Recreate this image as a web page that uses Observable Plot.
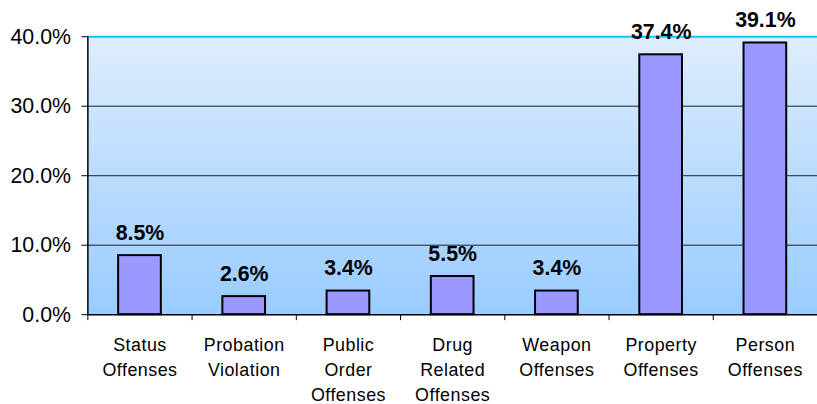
<!DOCTYPE html>
<html>
<head>
<meta charset="utf-8">
<script src="https://cdn.jsdelivr.net/npm/d3@7"></script>
<script src="https://cdn.jsdelivr.net/npm/@observablehq/plot@0.6"></script>
<style>
  html, body { margin: 0; padding: 0; background: #fff; overflow: hidden; width: 817px; height: 404px; }
  #chart svg { display: block; }
  #chart svg g[aria-label="x-axis tick label"] text { letter-spacing: 0.5px; }
</style>
</head>
<body>
<div id="chart"></div>
<script>
const categories = ["Status", "Probation", "Public Order", "Drug Related", "Weapon", "Property", "Person"];
const tickLabels = ["Status\nOffenses", "Probation\nViolation", "Public\nOrder\nOffenses", "Drug\nRelated\nOffenses", "Weapon\nOffenses", "Property\nOffenses", "Person\nOffenses"];
const values = [8.5, 2.6, 3.4, 5.5, 3.4, 37.4, 39.1];
const yTicks = [0, 10, 20, 30, 40];
const gridValues = [10, 20, 30];

const data = categories.map((c, i) => ({category: c, value: values[i]}));
const labelOf = new Map(categories.map((c, i) => [c, tickLabels[i]]));
const font = "'Liberation Sans', Arial, sans-serif";

const chart = Plot.plot({
  width: 823,
  height: 404,
  marginLeft: 88,
  marginRight: 0,
  marginTop: 36.5,
  marginBottom: 87.5,
  style: {fontFamily: font, color: "#000", background: "transparent"},
  x: {domain: categories, paddingInner: 0.59, paddingOuter: 0.295, align: 0.5},
  y: {domain: [0, 40]},
  marks: [
    Plot.frame({fill: "url(#bgGrad)", stroke: "none"}),
    Plot.ruleY(gridValues, {stroke: "#1a1f2a", strokeWidth: 1}),
    Plot.ruleY([40], {stroke: "#00CCFF", strokeWidth: 2}),
    Plot.barY(data, {x: "category", y: "value", fill: "#9999FF", stroke: "#000", strokeWidth: 2}),
    Plot.ruleY([0], {stroke: "#000", strokeWidth: 1.5}),
    Plot.ruleX([0], {x: () => categories[0], dx: -52.5, stroke: "#000", strokeWidth: 1.5}),
    Plot.ruleX(categories, {x: d => d, dx: -52.5, y1: 0, y2: 0, insetBottom: -6, stroke: "#000"}),
    Plot.ruleX([categories[categories.length - 1]], {x: d => d, dx: 52.5, y1: 0, y2: 0, insetBottom: -6, stroke: "#000"}),
    Plot.text(data, {x: "category", y: "value", text: d => d.value.toFixed(1) + "%", lineAnchor: "bottom", dy: -16, fontSize: 21.5, fontWeight: "bold", fill: "#000"}),
    Plot.axisY({ticks: yTicks, tickFormat: d => d.toFixed(1) + "%", tickSize: 6, tickPadding: 11, fontSize: 21.5, stroke: "#000", label: null}),
    Plot.axisX({tickSize: 0, tickPadding: 19, tickFormat: d => labelOf.get(d), fontSize: 18, lineHeight: 1.39, label: null})
  ]
});

const svg = d3.select(chart);
const defs = svg.insert("defs", ":first-child");
const grad = defs.append("linearGradient").attr("id", "bgGrad").attr("x1", 0).attr("y1", 0).attr("x2", 0).attr("y2", 1);
grad.append("stop").attr("offset", "0%").attr("stop-color", "#DEEDFD");
grad.append("stop").attr("offset", "100%").attr("stop-color", "#99CCFF");

document.getElementById("chart").appendChild(chart);
</script>
</body>
</html>
